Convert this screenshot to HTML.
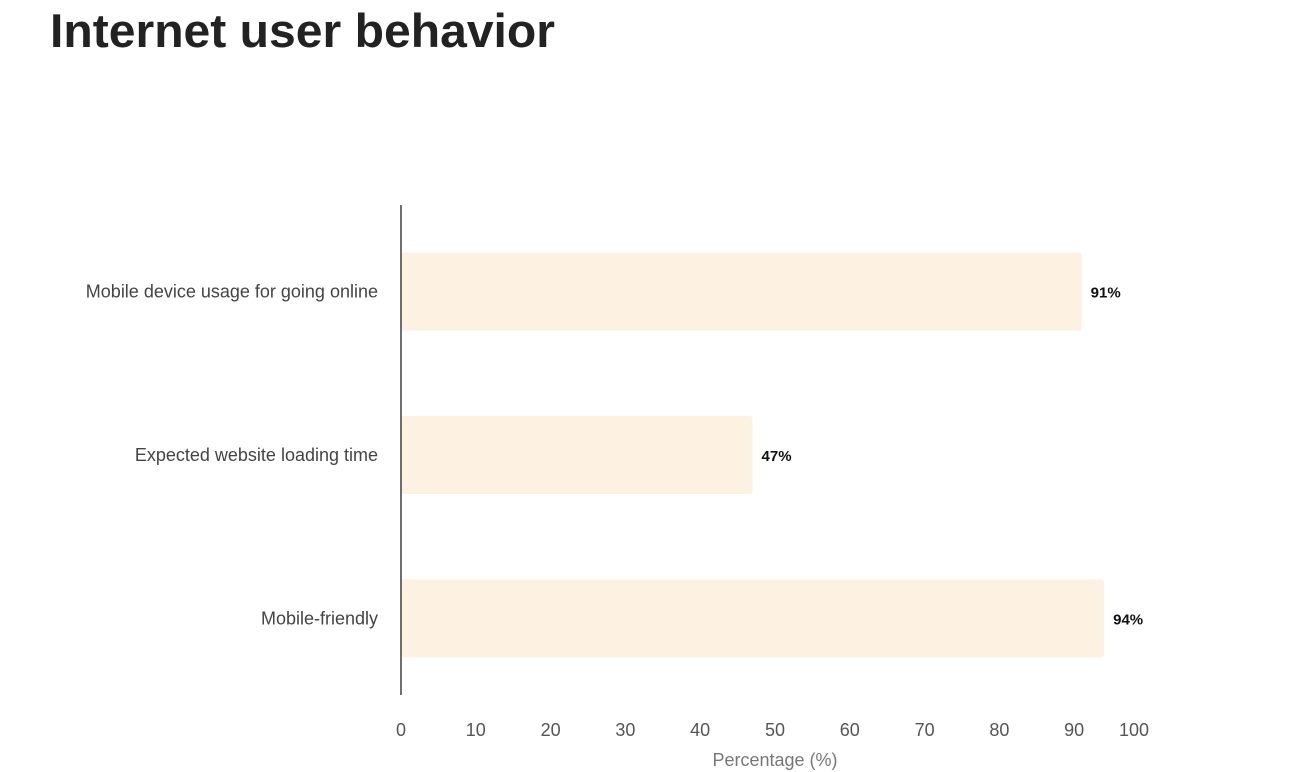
<!DOCTYPE html>
<html><head><meta charset="utf-8"><style>
body{margin:0;background:#fff;}
svg{display:block;font-family:"Liberation Sans",sans-serif;}
</style></head><body>
<svg id="chart" width="1293" height="772">
<text x="50" y="47" font-size="47" font-weight="bold" fill="#222" textLength="505" lengthAdjust="spacingAndGlyphs">Internet user behavior</text>
<g id="plot"></g>
</svg>
<script>
const categories = ["Mobile device usage for going online","Expected website loading time","Mobile-friendly"];
const values = [91, 47, 94];
const valueLabels = ["91%","47%","94%"];
const ticks = [0,10,20,30,40,50,60,70,80,90,100];

const NS="http://www.w3.org/2000/svg";
const g=document.getElementById('plot');
const x0=401, x1=1149, yTop=205, yBot=695;
const xs=v=>x0+(v/100)*(x1-x0);
const band=(yBot-yTop)/categories.length;
const barH=78;
function mk(t,a){const e=document.createElementNS(NS,t);for(const k in a)e.setAttribute(k,a[k]);g.appendChild(e);return e;}
categories.forEach((c,i)=>{
  const cy=yTop+band*(i+0.5)+5;
  const r=mk('rect',{x:x0,y:cy-barH/2,width:xs(values[i])-x0,height:barH,rx:3,fill:'#fdf1e1'});
  
  
  const l=mk('text',{x:378,y:cy+6,'text-anchor':'end','font-size':18,fill:'#444'});
  l.textContent=c;
  
  
  const v=mk('text',{x:xs(values[i])+9,y:cy+6,'font-size':15,'font-weight':'bold',fill:'#111'});
  v.textContent=valueLabels[i];
  
  
});
const ax=mk('line',{x1:x0,x2:x0,y1:yTop,y2:yBot,stroke:'#222','stroke-width':1.3});


ticks.forEach((t,i)=>{
  const last=i===ticks.length-1;
  const e=mk('text',{x:last?xs(t):xs(t),y:736,'text-anchor':last?'end':'middle','font-size':18,fill:'#555'});
  e.textContent=t;
  
  
});
const at=mk('text',{x:775,y:766,'text-anchor':'middle','font-size':18,fill:'#777'});
at.textContent='Percentage (%)';


</script>
</body></html>
